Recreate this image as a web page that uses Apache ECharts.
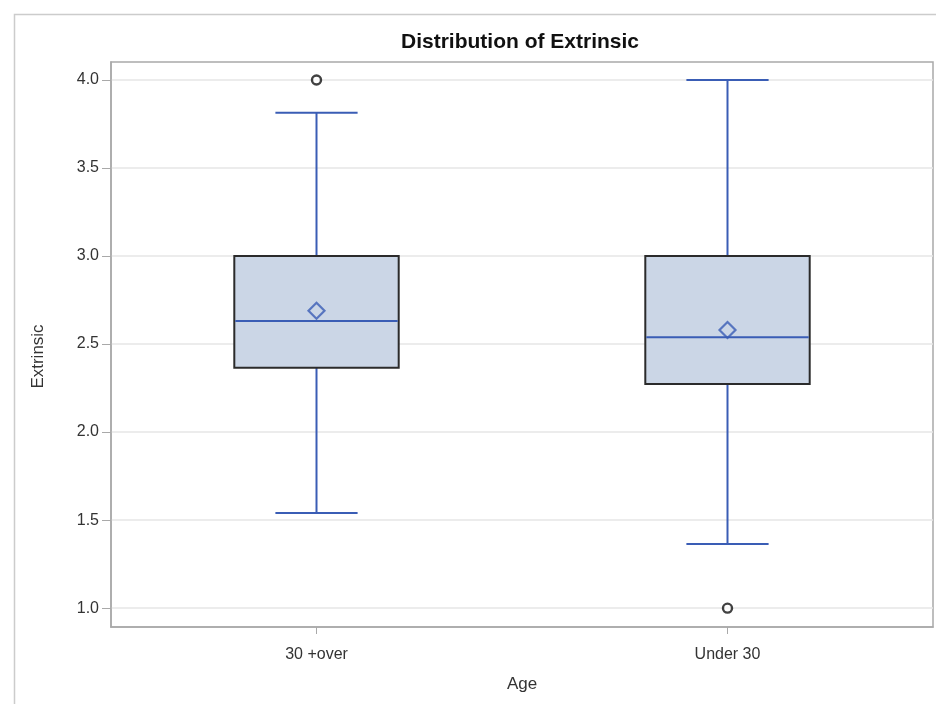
<!DOCTYPE html>
<html>
<head>
<meta charset="utf-8">
<title>Distribution of Extrinsic</title>
<script src="https://cdn.jsdelivr.net/npm/echarts@6/dist/echarts.min.js"></script>
<style>
  html, body { margin: 0; padding: 0; background: #ffffff; }
  #chart { width: 936px; height: 704px; }
</style>
</head>
<body>
<div id="chart"></div>
<script>
// Age groups on the horizontal axis
const categories = ['30 +over', 'Under 30'];

// Five-number summaries of Extrinsic per age group
const whiskerLow  = [1.54, 1.365];
const quartile1   = [2.365, 2.273];
const medians     = [2.631, 2.538];
const quartile3   = [3.0, 3.0];
const whiskerHigh = [3.814, 4.0];

// Group means (diamond markers)
const means = [2.689, 2.58];

// Outlying observations: [group index, value]
const outliers = [[0, 4.0], [1, 1.0]];

// Value axis tick labels
const yTicks = [1.0, 1.5, 2.0, 2.5, 3.0, 3.5, 4.0];

const FONT = '"Liberation Sans", Arial, sans-serif';
const BLUE = '#3a5db5';
const FILL = '#cbd6e6';

const boxData = categories.map((c, i) => [i, whiskerLow[i], quartile1[i], medians[i], quartile3[i], whiskerHigh[i]]);
const meanData = means.map((m, i) => [i, m]);

function renderBox(params, api) {
  const idx = api.value(0);
  const band = api.size([1, 0])[0];
  const boxW = band * 0.4;
  const capW = boxW * 0.5;
  const pLow = api.coord([idx, api.value(1)]);
  const pQ1 = api.coord([idx, api.value(2)]);
  const pMed = api.coord([idx, api.value(3)]);
  const pQ3 = api.coord([idx, api.value(4)]);
  const pHigh = api.coord([idx, api.value(5)]);
  const cx = pMed[0];
  const lineStyle = { stroke: BLUE, lineWidth: 2, fill: null };
  return {
    type: 'group',
    children: [
      // upper whisker
      { type: 'line', shape: { x1: cx, y1: pQ3[1], x2: cx, y2: pHigh[1] }, style: lineStyle },
      { type: 'line', shape: { x1: cx - capW / 2, y1: pHigh[1], x2: cx + capW / 2, y2: pHigh[1] }, style: lineStyle },
      // lower whisker
      { type: 'line', shape: { x1: cx, y1: pQ1[1], x2: cx, y2: pLow[1] }, style: lineStyle },
      { type: 'line', shape: { x1: cx - capW / 2, y1: pLow[1], x2: cx + capW / 2, y2: pLow[1] }, style: lineStyle },
      // interquartile box
      { type: 'rect', shape: { x: cx - boxW / 2, y: pQ3[1], width: boxW, height: pQ1[1] - pQ3[1] },
        style: { fill: FILL, stroke: '#2b2b2b', lineWidth: 2 } },
      // median
      { type: 'line', shape: { x1: cx - boxW / 2 + 1, y1: pMed[1], x2: cx + boxW / 2 - 1, y2: pMed[1] }, style: lineStyle }
    ]
  };
}

const chart = echarts.init(document.getElementById('chart'), null, { renderer: 'canvas' });

chart.setOption({
  animation: false,
  backgroundColor: '#ffffff',
  textStyle: { fontFamily: FONT },
  graphic: [{
    type: 'rect',
    left: 12, top: 12,
    shape: { width: 960, height: 720 },
    style: { fill: null, stroke: '#cccccc', lineWidth: 1.5 },
    silent: true
  }],
  title: {
    text: 'Distribution of Extrinsic',
    left: 515,
    textAlign: 'center',
    top: 27,
    textStyle: { fontFamily: FONT, fontSize: 21, fontWeight: 'bold', color: '#111111' }
  },
  grid: {
    left: 111, right: 3, top: 62, bottom: 77,
    show: true,
    borderColor: '#a9a9a9',
    borderWidth: 1.5,
    containLabel: false
  },
  xAxis: {
    type: 'category',
    data: categories,
    boundaryGap: true,
    name: 'Age',
    nameLocation: 'middle',
    nameGap: 49,
    nameTextStyle: { fontFamily: FONT, fontSize: 17, color: '#333333' },
    axisLine: { show: true, lineStyle: { color: '#a9a9a9', width: 1.5 } },
    axisTick: { show: true, alignWithLabel: true, length: 7, lineStyle: { color: '#a9a9a9' } },
    axisLabel: { fontFamily: FONT, fontSize: 16, color: '#333333', margin: 20 },
    splitLine: { show: false }
  },
  yAxis: {
    type: 'value',
    min: 0.893,
    max: 4.102,
    name: 'Extrinsic',
    nameLocation: 'middle',
    nameGap: 64,
    nameTextStyle: { fontFamily: FONT, fontSize: 17, color: '#333333', padding: [0, 0, 0, -24] },
    axisLine: { show: true, lineStyle: { color: '#a9a9a9', width: 1.5 } },
    axisTick: { show: true, length: 9, customValues: yTicks, lineStyle: { color: '#a9a9a9' } },
    axisLabel: {
      fontFamily: FONT, fontSize: 16, color: '#333333', margin: 12,
      customValues: yTicks,
      formatter: v => v.toFixed(1)
    },
    splitLine: { show: true, lineStyle: { color: '#e6e6e6', width: 1.5 } }
  },
  series: [
    {
      type: 'custom',
      name: 'Extrinsic',
      renderItem: renderBox,
      data: boxData,
      encode: { x: 0, y: [1, 2, 3, 4, 5] },
      z: 2
    },
    {
      type: 'scatter',
      name: 'Mean',
      data: meanData,
      symbol: 'diamond',
      symbolSize: [16, 16],
      itemStyle: { color: 'rgba(0,0,0,0)', borderColor: BLUE, borderWidth: 2.2 },
      z: 4
    },
    {
      type: 'scatter',
      name: 'Outliers',
      data: outliers,
      symbol: 'circle',
      symbolSize: 9,
      itemStyle: { color: '#ffffff', borderColor: '#111111', borderWidth: 2.4 },
      z: 4
    }
  ]
});
</script>
</body>
</html>
